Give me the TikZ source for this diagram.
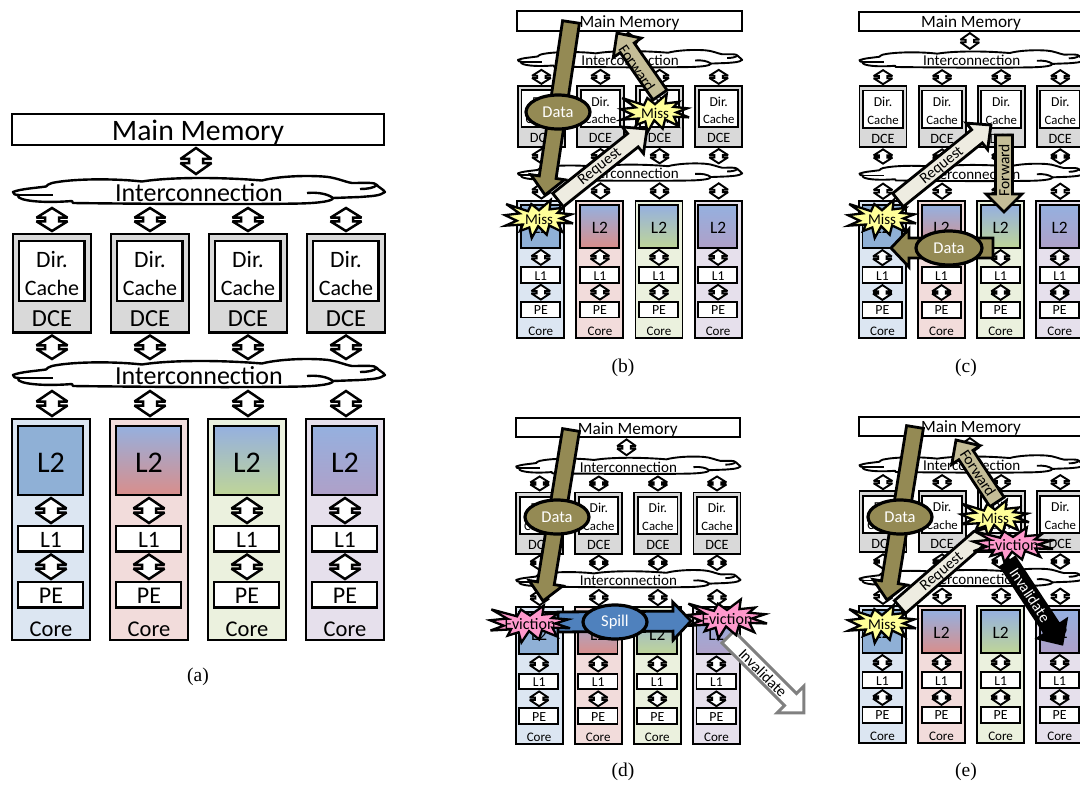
\documentclass[tikz,border=0pt]{standalone}
\usepackage{fontspec}
\setmainfont{Carlito}
\newfontfamily\capfont{Liberation Serif}
\usetikzlibrary{calc,shapes.geometric}
\definecolor{coreA}{HTML}{DCE6F2}\definecolor{coreB}{HTML}{F2DCDB}
\definecolor{coreC}{HTML}{EBF1DE}\definecolor{coreD}{HTML}{E6E0EC}
\definecolor{ltwoTop}{HTML}{95B0DF}\definecolor{ltwoA}{HTML}{8FB0D6}
\definecolor{ltwoB}{HTML}{D98E8B}\definecolor{ltwoC}{HTML}{BFD598}\definecolor{ltwoD}{HTML}{AFA0C8}
\definecolor{dcegray}{HTML}{D9D9D9}\definecolor{olive}{HTML}{948A54}
\definecolor{tan}{HTML}{C4BD97}\definecolor{cream}{HTML}{EEECE1}
\definecolor{spillblue}{HTML}{4F81BD}\definecolor{missy}{HTML}{FFFF99}\definecolor{evpink}{HTML}{FF99CC}
\tikzset{
  rbox/.style={draw=black,line width=\lw pt,rectangle},
  dc/.style={draw=black,fill=white,line width=\dcw pt,line join=miter,miter limit=3},
  cloudline/.style={draw=black,line width=\lw pt,line join=round},
  blockline/.style={draw=black,line width=2.8pt,line join=miter},
  labeltext/.style={inner sep=0pt,font=\fontsize{15.5}{16}\selectfont},
  oval/.style={ellipse,draw=black,line width=3.2pt,inner sep=0pt,text=white,font=\fontsize{16.5}{17}\selectfont},
  captiontext/.style={inner sep=0pt,font=\capfont\fontsize{19.5}{20}\selectfont},
  burstline/.style={draw=black,line width=2.3pt,line join=miter,miter limit=6}
}
% rectangle node from stroke-centre corners, in panel coordinates
\newcommand\rectn[6]{%
  \pgfmathsetmacro\rw{((#4)-(#2))*\sx}\pgfmathsetmacro\rh{((#5)-(#3))*\sy}%
  \node[inner sep=0pt,minimum width=\rw pt,minimum height=\rh pt,rbox,#6] (#1) at ({((#2)+(#4))/2},{((#3)+(#5))/2}) {};}
% text node set on its baseline
\newcommand\txt[5]{%
  \pgfmathsetmacro\fsz{(#4)*\ft}%
  \node[anchor=base,inner sep=0pt] (#1) at (#2,#3) {\fontsize{\fsz}{\fsz}\selectfont #5};}
% double block connector at column x, between two nodes
\newcommand\dconn[3]{%
  \coordinate (tX) at (#1,0);
  \coordinate (tA) at ($(tX|-#2)+(0,1.8)$);
  \coordinate (tD) at ($(tX|-#3)+(0,-1.8)$);
  \coordinate (tB) at ($(tA)!.42!(tD)$);
  \coordinate (tC) at ($(tA)!.58!(tD)$);
  \draw[dc] (tA) -- ($(tB)+(15.5,0)$) -- ($(tB)+(7,0)$) -- ($(tC)+(7,0)$) -- ($(tC)+(15.5,0)$) -- (tD)
    -- ($(tC)+(-15.5,0)$) -- ($(tC)+(-7,0)$) -- ($(tB)+(-7,0)$) -- ($(tB)+(-15.5,0)$) -- cycle;}
\newcommand\cloudshape[1]{%
  \begin{scope}[shift={(0,#1)}]
  \draw[cloudline,fill=white] (13,192) .. controls (20,189) and (35,188) .. (46,186.5)
    .. controls (47,185) and (49,184) .. (52,183)
    .. controls (70,179) and (110,178) .. (142,181.5)
    .. controls (170,177) and (220,177) .. (262,180.5)
    .. controls (275,177) and (300,175) .. (323,176.5)
    .. controls (335,177) and (345,182) .. (352,183)
    .. controls (365,183) and (375,182) .. (377,185)
    .. controls (378,187) and (383,189) .. (385,192)
    .. controls (380,196) and (372,196) .. (360,197)
    -- (333,198)
    .. controls (333,201) and (320,203) .. (300,203.5)
    .. controls (250,204.5) and (150,204) .. (73,203)
    -- (72,201)
    .. controls (60,202) and (35,203) .. (22,199)
    .. controls (17,197) and (18,196) .. (19,195)
    .. controls (15,195) and (13,194) .. (13,192) -- cycle;
  \draw[cloudline] (17,195) -- (53,195);
  \draw[cloudline] (307,193) .. controls (318,192) and (328,194) .. (333,198);
  \draw[cloudline] (360,189) .. controls (367,189) and (374,188) .. (377,185);
  \end{scope}}
% whole system: prefix, left, top, x scale, y scale, font scale, line width, connector line width
\newcommand\archsys[8]{%
  \def\pr{#1}\def\sx{#4}\def\sy{#5}\def\ft{#6}\def\lw{#7}\def\dcw{#8}%
  \pgfmathsetmacro\shx{(#2)-11*(#4)}\pgfmathsetmacro\shy{-(#3)+112.7*(#5)}%
  \begin{scope}[xshift=\shx pt,yshift=\shy pt,x=#4pt,y=-#5pt]
  \rectn{\pr-mem}{12}{113.7}{384}{145}{fill=white}
  \txt{\pr-memt}{198}{140}{29.7}{Main Memory}
  \node[inner sep=0pt,minimum width=372*#4pt,minimum height=30*#5pt] (\pr-net1) at (199,191) {};
  \node[inner sep=0pt,minimum width=372*#4pt,minimum height=28*#5pt] (\pr-net2) at (199,375) {};
  \cloudshape{0}
  \cloudshape{183}
  \txt{\pr-net1t}{199}{201}{26}{Interconnection}
  \txt{\pr-net2t}{199}{384}{26}{Interconnection}
  \dconn{196}{\pr-mem.south}{\pr-net1.north}
  \foreach \i/\bg/\lo in {1/coreA/ltwoA,2/coreB/ltwoB,3/coreC/ltwoC,4/coreD/ltwoD}{
    \pgfmathsetmacro\dx{98*(\i-1)}
    \rectn{\pr-dce\i}{13+\dx}{234}{91+\dx}{332.5}{fill=dcegray}
    \rectn{\pr-dir\i}{19+\dx}{241}{84.5+\dx}{301}{fill=white}
    \txt{\pr-dirt\i}{52+\dx}{267}{23.5}{Dir.}
    \txt{\pr-cacht\i}{52+\dx}{295}{22}{Cache}
    \txt{\pr-dcet\i}{52+\dx}{326}{24.5}{DCE}
    \rectn{\pr-core\i}{12+\dx}{419}{90+\dx}{640}{fill=\bg}
    \ifnum\i=1
      \rectn{\pr-ltwo\i}{18+\dx}{426}{83+\dx}{495}{fill=ltwoA}
    \else
      \rectn{\pr-ltwo\i}{18+\dx}{426}{83+\dx}{495}{top color=ltwoTop,bottom color=\lo}
    \fi
    \rectn{\pr-lone\i}{18+\dx}{526}{83+\dx}{551.5}{fill=white}
    \rectn{\pr-pe\i}{18+\dx}{582}{83+\dx}{607.5}{fill=white}
    \txt{\pr-ltwot\i}{51+\dx}{472}{30}{L2}
    \txt{\pr-lonet\i}{51+\dx}{547.5}{23.5}{L1}
    \txt{\pr-pet\i}{51+\dx}{603}{24}{PE}
    \txt{\pr-coret\i}{51+\dx}{636}{22.5}{Core}
    \dconn{52+\dx}{\pr-net1.south}{\pr-dce\i.north}
    \dconn{52+\dx}{\pr-dce\i.south}{\pr-net2.north}
    \dconn{52+\dx}{\pr-net2.south}{\pr-core\i.north}
    \dconn{51+\dx}{\pr-ltwo\i.south}{\pr-lone\i.north}
    \dconn{51+\dx}{\pr-lone\i.south}{\pr-pe\i.north}
  }
  \end{scope}}
% block arrow between two named end coordinates: name,x1,y1,x2,y2,style,shaft half,head half,head length
\newcommand\blockarrow[9]{%
  \coordinate (#1-s) at (#2,#3);\coordinate (#1-e) at (#4,#5);
  \pgfmathsetmacro\ang{atan2(-((#5)-(#3)),(#4)-(#2))}%
  \pgfmathsetmacro\blen{veclen((#4)-(#2),(#5)-(#3))}%
  \pgfmathsetmacro\bneck{\blen-(#9)}%
  \draw[blockline,#6,shift={(#1-s)},rotate=\ang] (0,#7) -- (\bneck,#7) -- (\bneck,#8) -- (\blen,0)
    -- (\bneck,-#8) -- (\bneck,-#7) -- (0,-#7) -- cycle;}
% explosion outline with a label: name,cx,cy,w,h,fill,text,size
\newcommand\burst[8]{%
  \pgfmathsetmacro\bx{(#4)/216}\pgfmathsetmacro\by{(#5)/216}%
  \begin{scope}[shift={(#2,#3)}]
  \begin{scope}[x=\bx pt,y=-\by pt,shift={(-108,-108)}]
  \draw[burstline,fill=#6] (108,58)--(145.22,0)--(141.55,53.25)--(183.8,44.57)--(167.02,73.15)--(210.97,81.37)--(176.07,104.75)--(216,132.9)--(168.37,129.42)--(181.45,180.95)--(140.2,144.57)--(132.47,197.37)--(105.32,149.35)--(84.85,216)--(77.15,156.27)--(47.62,176.17)--(56.67,139.37)--(1.35,145.87)--(37.22,117.75)--(0,86.15)--(46.27,76.17)--(3.7,22.95)--(73.12,63.2)--(83.52,22.95)--cycle;
  \end{scope}
  \end{scope}
  \node[inner sep=0pt,font=\fontsize{#8}{#8}\selectfont] (#1) at (#2,#3) {#7};}
\begin{document}
\begin{tikzpicture}[x=1pt,y=-1pt]
\useasboundingbox (0,0) rectangle (1080,785);
\archsys{a}{11}{112.7}{1}{1}{1}{2.4}{2.5}
\archsys{b}{516.7}{10.7}{0.603}{0.62}{0.58}{1.9}{1.9}
\archsys{c}{858.3}{11}{0.603}{0.62}{0.58}{1.9}{1.9}
\archsys{d}{515}{417.3}{0.603}{0.62}{0.58}{1.9}{1.9}
\archsys{e}{858.3}{416}{0.603}{0.62}{0.58}{1.9}{1.9}
% panel b
\blockarrow{bdata}{571}{22}{545}{195}{fill=olive}{8.5}{17}{18}
\node[oval,fill=olive,minimum width=64pt,minimum height=34pt] (bdatal) at (558,112) {Data};
\blockarrow{breq}{558}{200}{647}{129}{fill=cream}{8.5}{17}{18}
\node[labeltext,rotate=39] (breql) at (600,167) {Request};
\blockarrow{bfwd}{660}{95}{617}{33}{fill=tan}{8.5}{17}{18}
\node[labeltext,rotate=-56] (bfwdl) at (637,68) {Forward};
\burst{bmiss1}{539}{219}{68}{38}{missy}{Miss}{15}
\burst{bmiss2}{655}{113}{68}{38}{missy}{Miss}{15}
% panel c
\blockarrow{creq}{898}{200}{991}{125}{fill=cream}{8.5}{17}{18}
\node[labeltext,rotate=39] (creql) at (942,166) {Request};
\blockarrow{cfwd}{1004}{135}{1004}{212}{fill=tan}{8.5}{18}{18}
\node[labeltext,rotate=90] (cfwdl) at (1004,170) {Forward};
\blockarrow{cdata}{993}{248}{891}{248}{fill=olive}{10}{19}{18}
\node[oval,fill=olive,minimum width=66pt,minimum height=34pt] (cdatal) at (949,248) {Data};
\burst{cmiss}{882}{219}{68}{38}{missy}{Miss}{15}
% panel d
\blockarrow{ddata}{571}{430}{543}{601}{fill=olive}{8.5}{17}{18}
\node[oval,fill=olive,minimum width=64pt,minimum height=34pt] (ddatal) at (557,517) {Data};
\blockarrow{dspill}{558}{622}{691}{621}{fill=spillblue}{10}{19}{18}
\node[oval,fill=spillblue,minimum width=64pt,minimum height=34pt] (dspilll) at (615,622) {Spill};
\blockarrow{dinv}{728}{637}{804}{713}{fill=white,draw=black!50,line width=3pt}{8.5}{19}{19}
\node[labeltext,rotate=-45] (dinvl) at (763,673) {Invalidate};
\burst{devi1}{530}{624}{80}{37}{evpink}{Eviction}{16}
\burst{devi2}{727}{619}{80}{39}{evpink}{Eviction}{16}
% panel e
\blockarrow{edata}{915}{427}{887}{600}{fill=olive}{8.5}{17}{18}
\node[oval,fill=olive,minimum width=64pt,minimum height=34pt] (edatal) at (900,517) {Data};
\blockarrow{ereq}{900}{607}{993}{526}{fill=cream}{8.5}{8.5}{18}
\node[labeltext,rotate=40] (ereql) at (942,572) {Request};
\blockarrow{efwd}{997}{502}{956}{440}{fill=tan}{8.5}{17}{18}
\node[labeltext,rotate=-57] (efwdl) at (978,473) {Forward};
\blockarrow{einv}{1008}{562}{1062}{644}{fill=black}{8.5}{17}{18}
\node[labeltext,rotate=-57,text=white] (einvl) at (1030,595) {Invalidate};
\burst{emiss1}{882}{624}{68}{38}{missy}{Miss}{15}
\burst{emiss2}{995}{518}{68}{36}{missy}{Miss}{15}
\burst{eevi}{1013}{545}{80}{35}{evpink}{Eviction}{16}
% captions
\node[captiontext] (capa) at (198,677) {(a)};
\node[captiontext] (capb) at (623,367.5) {(b)};
\node[captiontext] (capc) at (966,367.5) {(c)};
\node[captiontext] (capd) at (623,772) {(d)};
\node[captiontext] (cape) at (966,772) {(e)};
\end{tikzpicture}
\end{document}
